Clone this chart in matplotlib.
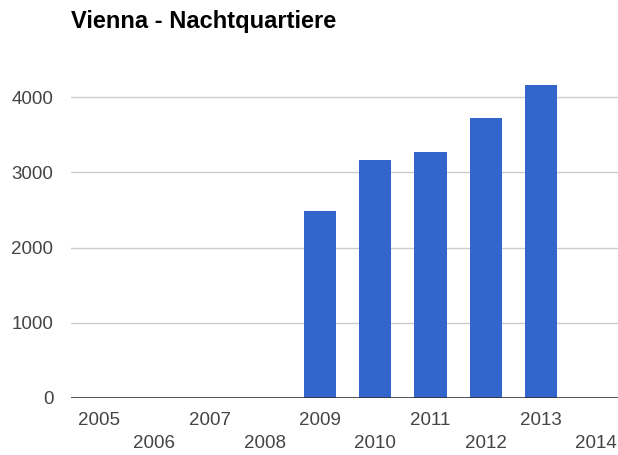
import numpy as np
import matplotlib.pyplot as plt

years = ['2005', '2006', '2007', '2008', '2009', '2010', '2011', '2012', '2013', '2014']
nights = [0, 0, 0, 0, 2490, 3165, 3270, 3725, 4160, 0]
yticks = [0, 1000, 2000, 3000, 4000]

plt.rcParams['font.family'] = ['Liberation Sans', 'DejaVu Sans']

fig = plt.figure(figsize=(6.18, 4.55), dpi=100)
ax = fig.add_axes([0.1155, 0.1253, 0.894, 0.744])

x = np.arange(len(years))
ax.bar(x, nights, width=0.58, color='#3366cc', zorder=3)

ax.set_xlim(-0.5, len(years) - 0.5)
ax.set_ylim(0, 4500)
ax.set_yticks(yticks)
ax.set_yticklabels([str(t) for t in yticks])
for t in yticks[1:]:
    ax.axhline(t, color='#cccccc', lw=1, zorder=1)
ax.axhline(0, color='#333333', lw=1.2, zorder=4)

# staggered year labels: even years on the first row, odd on the second
ax.set_xticks(x[::2])
ax.set_xticklabels(years[::2])
ax.set_xticks(x[1::2], minor=True)
ax.set_xticklabels(years[1::2], minor=True)
ax.tick_params(axis='x', which='major', length=0, pad=10, labelsize=13.5, labelcolor='#444444')
ax.tick_params(axis='x', which='minor', length=0, pad=26.5, labelsize=13.5, labelcolor='#444444')
ax.tick_params(axis='y', length=0, pad=13, labelsize=13.5, labelcolor='#444444')

for s in ax.spines.values():
    s.set_visible(False)

fig.text(71 / 618, 1 - 28 / 455, 'Vienna - Nachtquartiere', fontsize=17,
         fontweight='bold', color='#000000', ha='left', va='baseline')

fig.savefig('out.png', dpi=100)
